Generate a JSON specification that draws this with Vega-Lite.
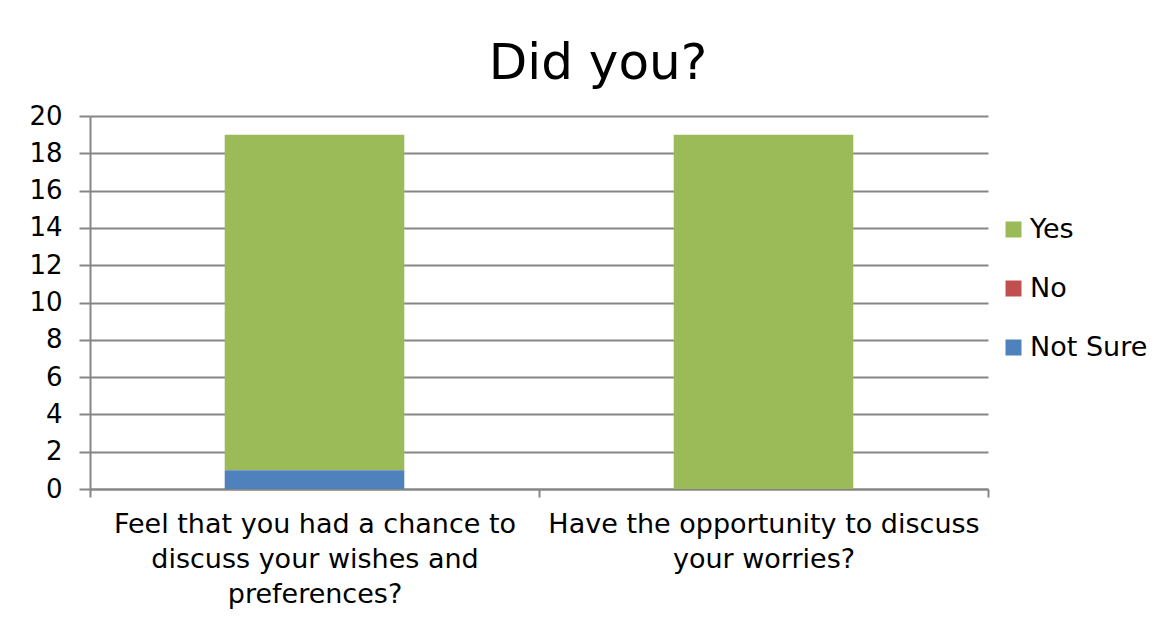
{
  "$schema": "https://vega.github.io/schema/vega-lite/v6.json",
  "width": 898,
  "height": 373,
  "autosize": {"type": "none"},
  "padding": {"left": 90, "top": 116, "right": 177, "bottom": 132},
  "background": "white",
  "title": {
    "text": "Did you?",
    "font": "DejaVu Sans",
    "fontSize": 50,
    "fontWeight": "normal",
    "color": "black",
    "anchor": "middle",
    "dx": 59,
    "offset": 14
  },
  "data": {
    "values": [
      {"question": "Feel", "answer": "Yes", "count": 18},
      {"question": "Feel", "answer": "No", "count": 0},
      {"question": "Feel", "answer": "Not Sure", "count": 1},
      {"question": "Have", "answer": "Yes", "count": 19},
      {"question": "Have", "answer": "No", "count": 0},
      {"question": "Have", "answer": "Not Sure", "count": 0}
    ]
  },
  "mark": {"type": "bar", "width": {"band": 0.4}},
  "encoding": {
    "x": {
      "field": "question",
      "type": "nominal",
      "sort": ["Feel", "Have"],
      "scale": {"paddingInner": 0, "paddingOuter": 0},
      "axis": {
        "title": null,
        "labelAngle": 0,
        "labelFont": "DejaVu Sans",
        "labelFontSize": 27,
        "labelColor": "black",
        "labelLineHeight": 35,
        "labelPadding": 14,
        "labelLimit": 0,
        "labelExpr": "datum.index < 0 ? '' : datum.value == 'Feel' ? ['Feel that you had a chance to', 'discuss your wishes and', 'preferences?'] : ['Have the opportunity to discuss', 'your worries?']",
        "domainColor": "#868686",
        "domainWidth": 2,
        "tickColor": "#868686",
        "tickWidth": 2,
        "tickSize": 8,
        "tickBand": "extent",
        "grid": false
      }
    },
    "y": {
      "field": "count",
      "type": "quantitative",
      "stack": "zero",
      "scale": {"domain": [0, 20]},
      "axis": {
        "title": null,
        "values": [0, 2, 4, 6, 8, 10, 12, 14, 16, 18, 20],
        "labelFont": "DejaVu Sans",
        "labelFontSize": 26,
        "labelColor": "black",
        "labelPadding": 17,
        "tickSize": 11,
        "tickColor": "#868686",
        "tickWidth": 2,
        "domainColor": "#868686",
        "domainWidth": 2,
        "gridColor": "#868686",
        "gridWidth": 2
      }
    },
    "color": {
      "field": "answer",
      "type": "nominal",
      "scale": {"domain": ["Yes", "No", "Not Sure"], "range": ["#9BBB59", "#C0504D", "#4F81BD"]},
      "legend": {
        "title": null,
        "orient": "none",
        "legendX": 910,
        "legendY": 100,
        "symbolType": "square",
        "symbolSize": 256,
        "symbolStrokeWidth": 0,
        "symbolOpacity": 1,
        "labelFont": "DejaVu Sans",
        "labelFontSize": 27,
        "labelColor": "black",
        "labelOffset": 3,
        "rowPadding": 31
      }
    },
    "order": {"field": "answer", "sort": "ascending"}
  },
  "config": {
    "view": {"stroke": null},
    "axis": {"gridOpacity": 1}
  }
}
